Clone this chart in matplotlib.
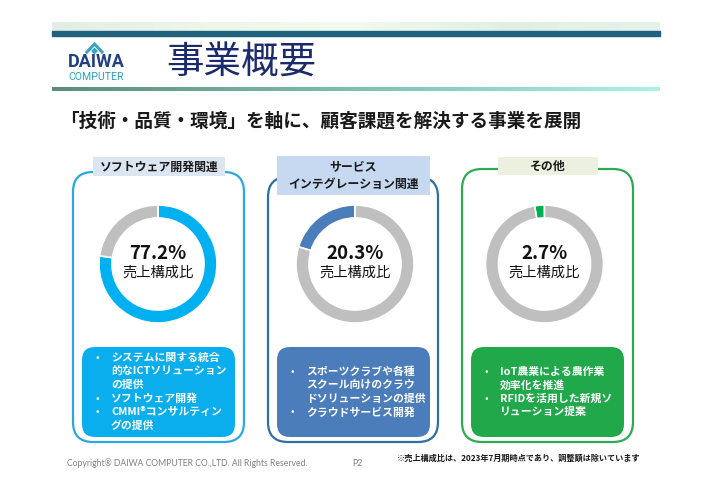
# business overview slide: three donut charts of sales share
import matplotlib
matplotlib.use('Agg')
import matplotlib.pyplot as plt
from matplotlib.patches import FancyBboxPatch, Polygon
from matplotlib.colors import LinearSegmentedColormap
import numpy as np

plt.rcParams['font.family'] = ['Noto Sans CJK JP', 'DejaVu Sans']

# data
title = '事業概要'
subtitle = '「技術・品質・環境」を軸に、顧客課題を解決する事業を展開'
segments = ['ソフトウェア開発関連', 'サービス\nインテグレーション関連', 'その他']
shares = [77.2, 20.3, 2.7]
rest = [22.8, 79.7, 97.3]
share_label = '売上構成比'
items = [
    [['システムに関する統合', '的なICTソリューション', 'の提供'],
     ['ソフトウェア開発'],
     ['CMMI®コンサルティン', 'グの提供']],
    [['スポーツクラブや各種', 'スクール向けのクラウ', 'ドソリューションの提供'],
     ['クラウドサービス開発']],
    [['IoT農業による農作業', '効率化を推進'],
     ['RFIDを活用した新規ソ', 'リューション提案']],
]
copyright_text = 'Copyright® DAIWA COMPUTER CO.,LTD. All Rights Reserved.'
page = 'P2'
footnote = '※売上構成比は、2023年7月期時点であり、調整額は除いています'

# styles
seg_colors = ['#00B0F0', '#4A7EBB', '#00B050']
border_colors = ['#2AA8DE', '#2F6DA5', '#2EAA52']
box_colors = ['#0AAEEC', '#4B7DBA', '#20A84B']
head_colors = ['#DCE6F2', '#C6D9F1', '#EBF1DE']
gray = '#BFBFBF'
clockwise = [True, False, False]

W, H = 707, 500
fig = plt.figure(figsize=(W / 100, H / 100), dpi=100)
bg = fig.add_axes([0, 0, 1, 1])
bg.axis('off')

# header band
band = LinearSegmentedColormap.from_list('band', ['#E2EDE7', '#EEF6EA', '#F2F9EE', '#E0EFE6', '#E6F3EC'])
bg.imshow(np.linspace(0, 1, 256)[None, :], cmap=band, extent=(52, 660, 31, 22), aspect='auto', zorder=1)
bg.fill_between([52, 660], 31, 35.5, color='#21637F', zorder=2)
line = LinearSegmentedColormap.from_list('line', ['#5E8C7A', '#7FC0AE', '#ACF2E8'])
bg.imshow(np.linspace(0, 1, 256)[None, :], cmap=line, extent=(52, 660, 91, 87), aspect='auto', zorder=1)

# logo
bg.plot([87, 94.5, 102], [52, 44, 52], color='#3AA3BA', lw=2.2, solid_joinstyle='miter', zorder=3)
bg.add_patch(Polygon([[94.5, 48.5], [97, 51], [94.5, 53.5], [92, 51]], closed=True, color='#3AA3BA', zorder=3))
bg.text(96, 62, 'DAIWA', family=['Roboto', 'DejaVu Sans'], weight='bold',
        fontsize=13, color='#21407E', ha='center', va='center', zorder=3)
bg.text(96, 77, 'COMPUTER', family=['Roboto', 'DejaVu Sans'],
        fontsize=7.6, color='#2AA3B8', ha='center', va='center', zorder=3)

bg.text(166, 63, title, fontsize=27, color='#1B2A6B', ha='left', va='center')
bg.text(60, 121, subtitle, fontsize=13.4, weight='bold', color='#1A1A1A', ha='left', va='center')

# panels
panels = [(73, 244, 172), (268, 438, 177), (462, 633, 169)]
heads = [(93, 225, 157, 176), (277, 430, 156, 195), (498, 598, 157, 175)]
centers = [158, 355, 544.5]
cy, r = 264, 59
for i in range(3):
    x0, x1, y0 = panels[i]
    bg.add_patch(FancyBboxPatch((x0, y0), x1 - x0, 442 - y0, boxstyle='round,pad=0,rounding_size=20',
                                fill=False, ec=border_colors[i], lw=1.6, zorder=2))
    hx0, hx1, hy0, hy1 = heads[i]
    bg.add_patch(FancyBboxPatch((hx0, hy0), hx1 - hx0, hy1 - hy0, boxstyle='square,pad=0',
                                fc=head_colors[i], ec='none', zorder=3))
    bg.text((hx0 + hx1) / 2, (hy0 + hy1) / 2 + 0.5, segments[i], fontsize=8.6, weight='bold',
            ha='center', va='center', linespacing=1.35, color='#1A1A1A', zorder=4)

    # text box with bullets
    bx0 = x0 + 9
    bx1 = bx0 + 153
    bg.add_patch(FancyBboxPatch((bx0, 347), bx1 - bx0, 90, boxstyle='round,pad=0,rounding_size=13',
                                fc=box_colors[i], ec='none', zorder=2))
    n = sum(len(it) for it in items[i])
    y = 392 - (n - 1) * 13.5 / 2
    for it in items[i]:
        bg.text(bx0 + 15, y, '•', fontsize=7.5, color='white', ha='center', va='center', zorder=4)
        for ln in it:
            bg.text(bx0 + 29, y, ln, fontsize=7.8, weight='bold', color='white',
                    ha='left', va='center', zorder=4)
            y += 13.5

    # donut
    ra = r * 1.04
    ax = fig.add_axes([(centers[i] - ra) / W, 1 - (cy + ra) / H, 2 * ra / W, 2 * ra / H])
    ax.pie([shares[i], rest[i]], colors=[seg_colors[i], gray], radius=1, startangle=90,
           counterclock=not clockwise[i],
           wedgeprops=dict(width=0.22, edgecolor='white', linewidth=1.2))
    ax.set_xlim(-1.04, 1.04)
    ax.set_ylim(-1.04, 1.04)
    ax.set_aspect('equal')
    ax.axis('off')
    ax.text(0, 0.18, f'{shares[i]}%', fontsize=13.5, weight='bold', ha='center', va='center', color='#111111')
    ax.text(0, -0.14, share_label, fontsize=10.3, ha='center', va='center', color='#111111')

# footer
bg.text(67, 463, copyright_text, family=['Lato', 'DejaVu Sans'], fontsize=6.2, color='#808080',
        ha='left', va='center')
bg.text(352, 463, page, family=['Lato', 'DejaVu Sans'], fontsize=6.4, color='#808080', ha='left', va='center')
bg.text(640, 458, footnote, fontsize=5.9, weight='bold', color='#1A1A1A', ha='right', va='center')

bg.set_xlim(0, W)
bg.set_ylim(H, 0)
fig.savefig('out.png', dpi=100, facecolor='white')
